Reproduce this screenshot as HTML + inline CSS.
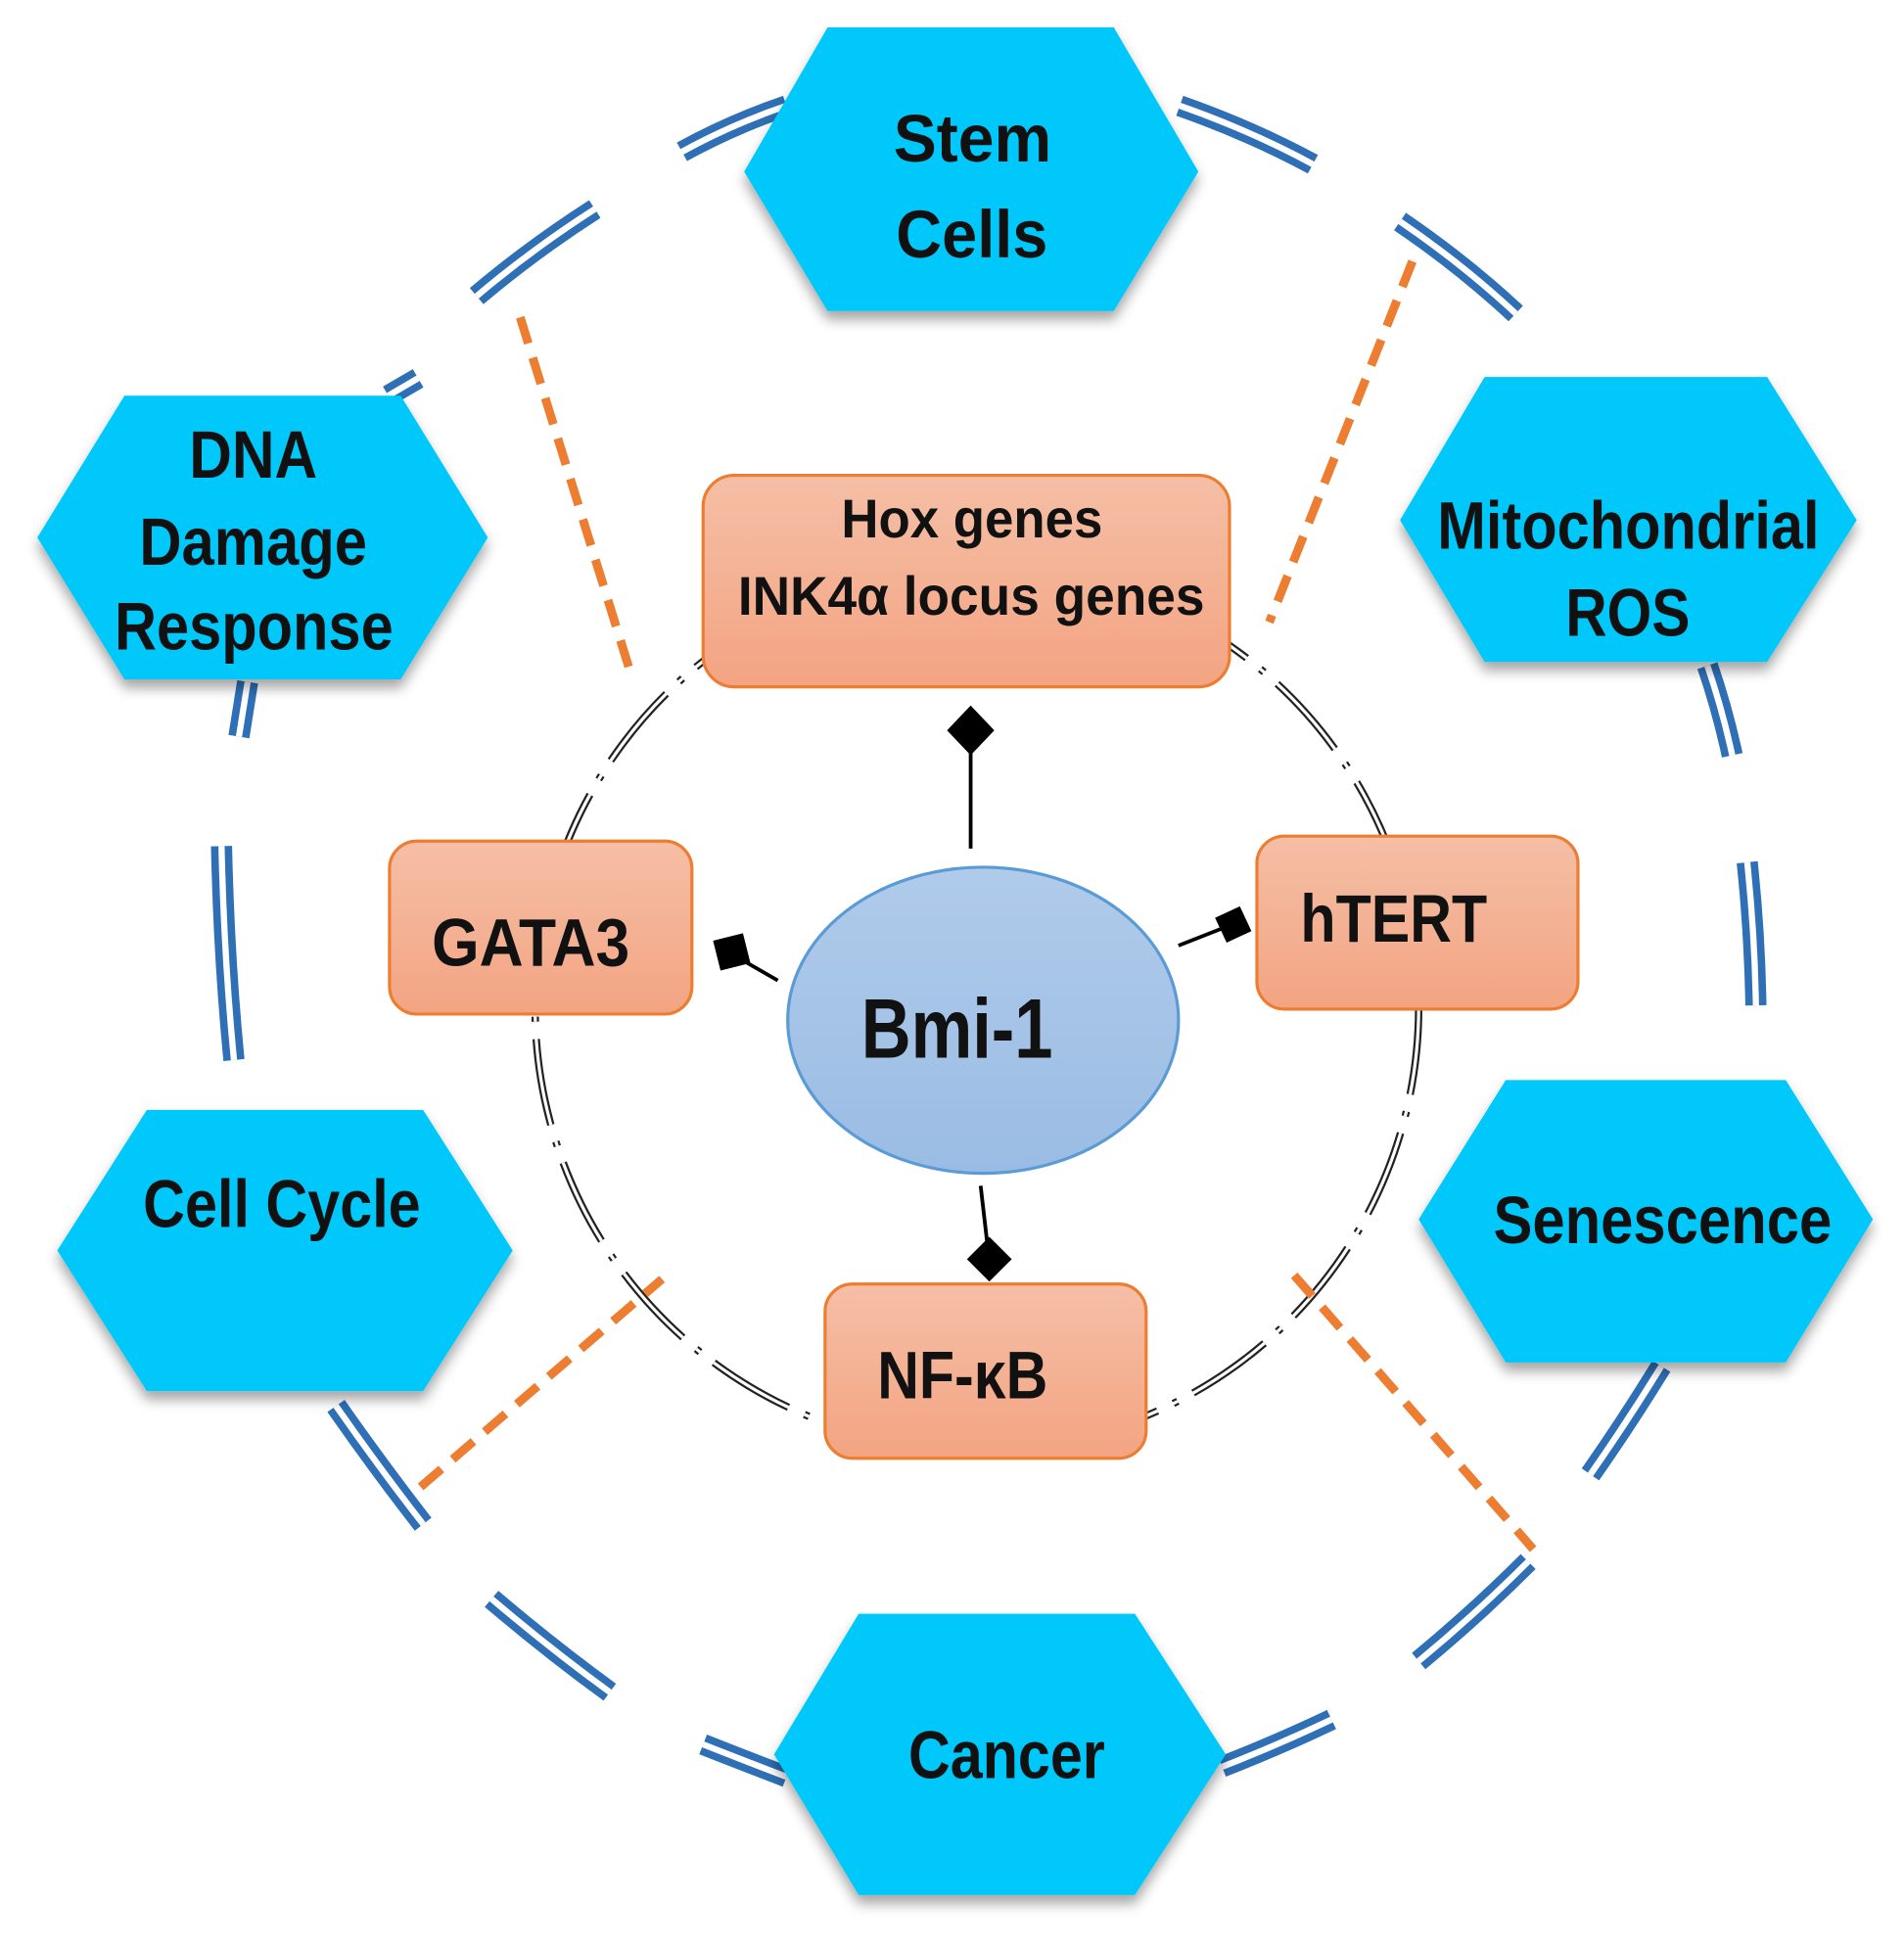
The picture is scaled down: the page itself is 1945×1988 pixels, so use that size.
<!DOCTYPE html>
<html><head><meta charset="utf-8"><style>html,body{margin:0;padding:0;background:#fff}svg{display:block}</style></head>
<body>
<svg width="1945" height="1988" viewBox="0 0 1530 1564" preserveAspectRatio="none" xmlns="http://www.w3.org/2000/svg" font-family="Liberation Sans, Arial, sans-serif" font-weight="bold">
<defs>
<linearGradient id="og" x1="0" y1="0" x2="0" y2="1"><stop offset="0" stop-color="#f5bfa6"/><stop offset="1" stop-color="#f3a482"/></linearGradient>
<linearGradient id="bg" x1="0" y1="0" x2="0" y2="1"><stop offset="0" stop-color="#b0cbea"/><stop offset="1" stop-color="#9abce4"/></linearGradient>
<filter id="sh" x="-10%" y="-10%" width="120%" height="130%"><feDropShadow dx="0" dy="7" stdDeviation="5" flood-color="#000" flood-opacity="0.35"/></filter>
</defs>
<g fill="none" stroke-linecap="butt">
<g id="dbl" stroke="#2e6fb5" stroke-width="17">
<path d="M548,122 Q588,100 632,85"/><path d="M948,85 Q1005,105 1055,132"/>
<path d="M383,238 Q428,200 478,168"/><path d="M1125,178 Q1175,212 1218,252"/>
<path d="M312,318 L336,304"/><path d="M199,548 L192,592"/>
<path d="M178,680 Q180,770 188,852"/><path d="M1372,535 Q1384,570 1392,607"/>
<path d="M1404,693 Q1410,750 1411,808"/><path d="M1335,1098 Q1308,1142 1278,1185"/>
<path d="M270,1130 Q305,1180 340,1225"/><path d="M395,1285 Q442,1325 490,1360"/>
<path d="M1228,1255 Q1186,1297 1140,1335"/><path d="M565,1402 Q598,1415 632,1428"/>
<path d="M982,1420 Q1028,1402 1070,1382"/>
</g>
<g stroke="#fff" stroke-width="5">
<path d="M548,122 Q588,100 632,85"/><path d="M948,85 Q1005,105 1055,132"/>
<path d="M383,238 Q428,200 478,168"/><path d="M1125,178 Q1175,212 1218,252"/>
<path d="M312,318 L336,304"/><path d="M199,548 L192,592"/>
<path d="M178,680 Q180,770 188,852"/><path d="M1372,535 Q1384,570 1392,607"/>
<path d="M1404,693 Q1410,750 1411,808"/><path d="M1335,1098 Q1308,1142 1278,1185"/>
<path d="M270,1130 Q305,1180 340,1225"/><path d="M395,1285 Q442,1325 490,1360"/>
<path d="M1228,1255 Q1186,1297 1140,1335"/><path d="M565,1402 Q598,1415 632,1428"/>
<path d="M982,1420 Q1028,1402 1070,1382"/>
</g>
<circle cx="785" cy="810" r="355" stroke="#222" stroke-width="6" stroke-dasharray="70 14 4 14"/>
<circle cx="785" cy="810" r="355" stroke="#fff" stroke-width="2.5" stroke-dasharray="70 14 4 14"/>
<g stroke="#ed7d31" stroke-width="7" stroke-dasharray="22 12">
<path d="M418,255 L508,545"/><path d="M1135,210 L1020,500"/>
<path d="M338,1195 L532,1028"/><path d="M1040,1025 L1232,1245"/>
</g>
<g stroke="#000" stroke-width="3">
<path d="M780,682 L780,595"/><path d="M625,788 L592,769"/><path d="M947,760 L985,745"/><path d="M788,953 L794,1005"/>
</g>
</g>
<g fill="#000">
<path d="M780,567 L799,587 L780,607 L761,587Z"/>
<path d="M573,756 L597,750 L603,774 L579,780Z"/>
<rect x="980" y="732" width="22" height="22" transform="rotate(-25 991 743)"/>
<path d="M795,994 L813,1012 L795,1030 L777,1012Z"/>
</g>
<g fill="#00c8fa" filter="url(#sh)">
<polygon points="598,138 665,22 895,22 963,138 895,250 665,250"/>
<polygon points="30,432 100,318 322,318 392,432 322,546 100,546"/>
<polygon points="1125,418 1193,303 1420,303 1492,418 1420,532 1193,532"/>
<polygon points="46,1005 118,892 340,892 412,1005 340,1118 118,1118"/>
<polygon points="1140,980 1210,868 1435,868 1505,980 1435,1095 1210,1095"/>
<polygon points="622,1410 690,1297 912,1297 985,1410 912,1523 690,1523"/>
</g>
<g fill="url(#og)" stroke="#ed7d31" stroke-width="2.5">
<rect x="565" y="382" width="423" height="170" rx="25"/>
<rect x="313" y="676" width="243" height="139" rx="22"/>
<rect x="1010" y="672" width="258" height="139" rx="22"/>
<rect x="663" y="1032" width="258" height="140" rx="22"/>
</g>
<ellipse cx="790" cy="820" rx="157" ry="123" fill="url(#bg)" stroke="#5b9bd5" stroke-width="2.5"/>
<g fill="#111" font-size="54">
<text x="718" y="130" textLength="127" lengthAdjust="spacingAndGlyphs">Stem</text>
<text x="720" y="207" textLength="122" lengthAdjust="spacingAndGlyphs">Cells</text>
<text x="152" y="384" textLength="103" lengthAdjust="spacingAndGlyphs">DNA</text>
<text x="112" y="454" textLength="183" lengthAdjust="spacingAndGlyphs">Damage</text>
<text x="92" y="522" textLength="224" lengthAdjust="spacingAndGlyphs">Response</text>
<text x="1155" y="441" textLength="307" lengthAdjust="spacingAndGlyphs">Mitochondrial</text>
<text x="1258" y="511" textLength="100" lengthAdjust="spacingAndGlyphs">ROS</text>
<text x="115" y="986" textLength="223" lengthAdjust="spacingAndGlyphs">Cell Cycle</text>
<text x="1200" y="999" textLength="272" lengthAdjust="spacingAndGlyphs">Senescence</text>
<text x="730" y="1429" textLength="158" lengthAdjust="spacingAndGlyphs">Cancer</text>
<text x="347" y="776" textLength="159" lengthAdjust="spacingAndGlyphs">GATA3</text>
<text x="1045" y="757" textLength="150" lengthAdjust="spacingAndGlyphs">hTERT</text>
<text x="705" y="1124" textLength="137" lengthAdjust="spacingAndGlyphs">NF-κB</text>
<text x="676" y="432" font-size="44" textLength="210" lengthAdjust="spacingAndGlyphs">Hox genes</text>
<text x="593" y="494" font-size="44" textLength="375" lengthAdjust="spacingAndGlyphs">INK4α locus genes</text>
<text x="692" y="850" font-size="68" textLength="154" lengthAdjust="spacingAndGlyphs">Bmi-1</text>
</g>
</svg>
</body></html>
